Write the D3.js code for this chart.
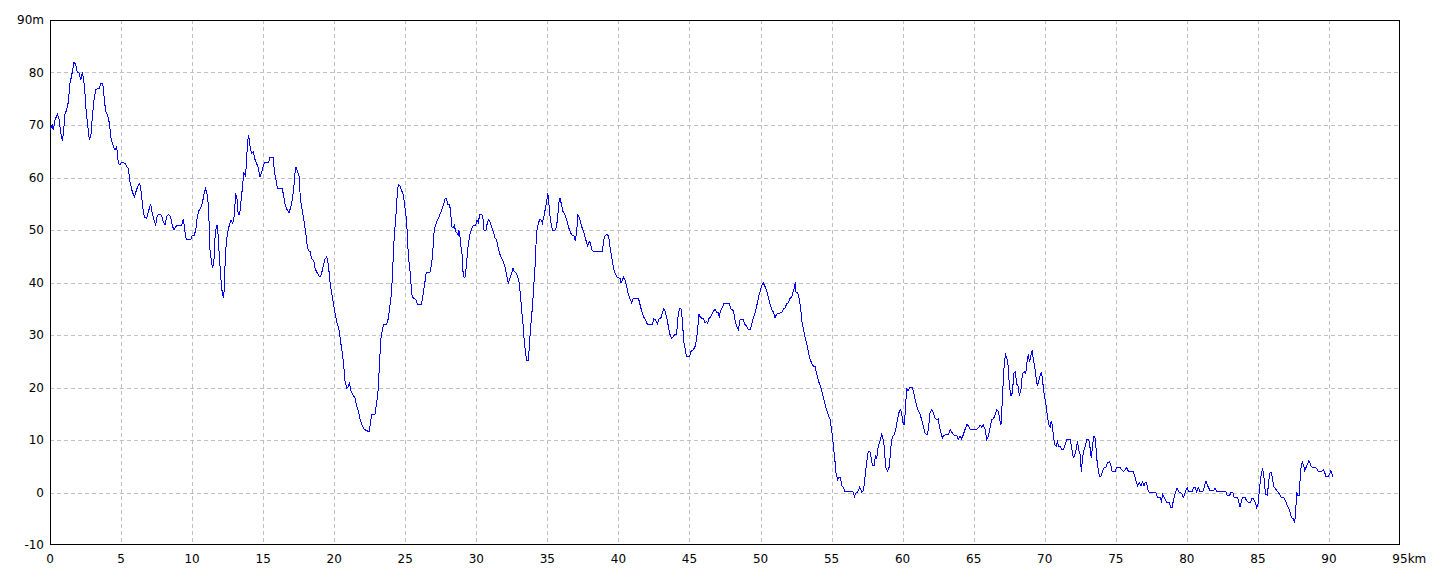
<!DOCTYPE html>
<html><head><meta charset="utf-8">
<script src="https://cdn.jsdelivr.net/npm/d3@7/dist/d3.min.js"></script>
<style>body{margin:0;background:#fff;overflow:hidden}</style>
</head><body><svg id="c" width="1440" height="576"></svg>
<script>
// [distance km, elevation m]
const profilePoints = [
[0.0,69],[0.05,69.4],[0.16,70],[0.23,69],[0.35,71],[0.52,72],[0.63,71.3],[0.75,68.7],[0.87,67],[0.94,68.4],[1.06,72.2],[1.17,72.8],[1.29,74.4],[1.41,78],[1.53,79.5],[1.69,82],[1.81,81.5],[1.92,80.1],[2.04,80],[2.16,78.5],[2.28,80],[2.42,77.6],[2.53,73.2],[2.65,70],[2.77,67.1],[2.89,68.4],[3.0,72.2],[3.12,75.4],[3.24,76.8],[3.47,77],[3.59,78],[3.71,78],[3.82,75],[3.92,72.5],[4.06,71.9],[4.18,70.3],[4.29,67.5],[4.46,65.9],[4.57,65.3],[4.69,65.9],[4.81,62.7],[4.93,62.4],[5.04,62.9],[5.28,62.7],[5.4,62.1],[5.51,61.8],[5.63,59.2],[5.79,57.3],[5.94,56.3],[6.05,57.3],[6.17,58.3],[6.31,58.9],[6.43,57],[6.52,54.5],[6.64,52.5],[6.8,52.2],[6.92,53.5],[7.08,54.9],[7.2,53.2],[7.32,51.9],[7.44,51],[7.55,52.8],[7.67,53],[7.86,52.8],[7.97,51.6],[8.09,51],
[8.21,52.5],[8.33,53],[8.49,52.5],[8.6,50.9],[8.72,50],[8.84,50.6],[8.96,50.9],[9.26,50.9],[9.38,52],[9.45,50.9],[9.54,48.7],[9.66,48.1],[9.9,48.1],[10.02,49],[10.16,49],[10.27,50.3],[10.36,52.5],[10.48,53.7],[10.62,54.3],[10.74,55.4],[10.86,57.1],[10.95,57.9],[11.07,56.6],[11.16,54.4],[11.25,46.5],[11.37,43.7],[11.44,42.7],[11.54,44.3],[11.63,49.4],[11.72,50.8],[11.79,50.8],[11.86,47.5],[11.96,43.2],[12.07,39.2],[12.14,37.7],[12.21,37.3],[12.26,38.6],[12.35,45.9],[12.47,49],[12.59,50.6],[12.73,51.9],[12.84,51.3],[12.93,51.9],[13.0,54.1],[13.07,57],[13.17,55.7],[13.24,53],[13.35,53],[13.47,56.3],[13.56,58.5],[13.63,60.9],[13.75,60.4],[13.84,63],[13.89,66.8],[13.98,68],[14.07,66.1],[14.17,64.6],[14.31,64.9],[14.4,63.6],[14.52,62.8],[14.64,62],[14.78,60.1],[14.87,60.8],[14.99,62],[15.1,62.8],[15.38,62.8],[15.48,63.9],[15.69,63.9],[15.81,60.8],[15.93,59.2],[16.0,57.9],[16.35,57.9],[16.47,56],[16.56,54.6],[16.68,53.9],
[16.82,53.2],[16.94,54.4],[17.05,55.7],[17.15,57.9],[17.24,60.8],[17.31,61.9],[17.43,61.1],[17.52,60.4],[17.62,56],[17.76,53.5],[17.88,51.6],[17.99,49.7],[18.09,47.2],[18.18,46.1],[18.3,45.9],[18.41,44.6],[18.56,44.1],[18.65,42.7],[18.77,42],[18.88,41.5],[19.0,41],[19.12,41.8],[19.24,43.4],[19.35,44.4],[19.47,44.9],[19.59,43.4],[19.71,39.9],[19.82,38],[19.94,36.1],[20.06,34.2],[20.17,32.6],[20.34,31],[20.46,28.5],[20.57,26.6],[20.67,24.1],[20.76,21.2],[20.88,19.9],[20.99,20.1],[21.07,21],[21.18,19.3],[21.3,18.7],[21.46,18],[21.58,16.5],[21.7,15.5],[21.82,13.9],[21.93,13],[22.12,12],[22.36,11.7],[22.45,11.5],[22.54,13],[22.64,14.9],[22.87,14.9],[22.97,16.8],[23.06,18.4],[23.13,21.5],[23.2,25.3],[23.29,29.4],[23.39,31],[23.48,32],[23.69,32],[23.81,33.2],[23.9,35.1],[24.0,37.3],[24.09,40.8],[24.16,45.3],[24.23,49.1],[24.3,51.3],[24.37,53.8],[24.44,57],[24.51,58.7],[24.63,58.4],[24.75,57.5],[24.87,56.6],[24.98,54.3],[25.1,51.5],
[25.22,44.9],[25.33,42.4],[25.4,39.9],[25.45,37.7],[25.57,37],[25.73,36.8],[25.85,35.9],[26.15,35.9],[26.27,38],[26.39,40.2],[26.46,41.6],[26.55,42],[26.74,42],[26.86,43.7],[26.93,45.3],[27.0,49.1],[27.09,50.6],[27.21,51.6],[27.33,52.2],[27.44,53],[27.56,53.8],[27.68,54.7],[27.8,56],[27.91,55.9],[27.98,54.9],[28.1,54.9],[28.19,53.8],[28.26,50.6],[28.38,50.5],[28.45,50.9],[28.55,49.7],[28.64,49.4],[28.73,49.1],[28.78,49.9],[28.85,48.7],[28.92,46.8],[29.02,44.9],[29.08,41.1],[29.2,41],[29.3,43],[29.37,45.6],[29.44,47.5],[29.55,49.1],[29.67,50.3],[29.79,50.9],[29.95,50.9],[30.05,51.8],[30.14,51.4],[30.24,53],[30.38,53],[30.47,52.2],[30.54,50],[30.68,50],[30.77,51.3],[30.87,52],[30.96,51.6],[31.08,50.5],[31.2,49.7],[31.31,48.5],[31.43,48.1],[31.55,46.5],[31.67,45.3],[31.78,44.6],[31.9,44],[32.02,43],[32.14,41.3],[32.25,39.9],[32.37,40.8],[32.49,41.8],[32.58,42.7],[32.68,42.1],[32.79,41.9],[32.91,41.1],[33.03,39.9],[33.12,37],[33.19,34.8],[33.28,32.3],[33.38,28.5],[33.47,26.6],[33.54,25.2],[33.66,25.2],[33.75,28.5],
[33.78,30],[33.85,32.3],[33.95,35.4],[34.04,39.2],[34.13,43],[34.2,47.2],[34.27,50],[34.37,51.3],[34.46,52],[34.56,51.9],[34.65,51.3],[34.74,52.4],[34.84,53.8],[34.93,55.1],[35.03,57],[35.12,54.7],[35.21,51.9],[35.35,50],[35.54,50],[35.64,50.6],[35.73,52.5],[35.8,55.1],[35.89,56],[36.01,54.7],[36.1,53.5],[36.25,52.8],[36.36,51.9],[36.48,50.6],[36.6,49.7],[36.71,49.1],[36.86,48.9],[36.97,48],[37.07,50],[37.14,52.8],[37.23,52.5],[37.32,51.6],[37.42,50.6],[37.54,49.7],[37.65,48.7],[37.77,47.5],[37.84,47],[37.96,47.8],[38.03,47.5],[38.12,46.2],[38.22,46],[38.87,46],[38.97,48.1],[39.06,48.9],[39.15,49.1],[39.3,49],[39.41,46.8],[39.53,44.9],[39.65,42.7],[39.76,41.8],[39.88,41.1],[40.0,40.9],[40.12,40.8],[40.19,39.9],[40.28,40.5],[40.37,41],[40.47,40.5],[40.59,39.2],[40.7,37.7],[40.82,36.8],[40.94,36.1],[41.05,37],[41.41,37],[41.52,35.8],[41.64,34.5],[41.76,33.5],[41.87,33.1],
[41.99,32.3],[42.06,32],[42.39,32],[42.48,33.1],[42.62,32.9],[42.74,32.1],[42.86,33.1],[43.0,33.3],[43.09,34.2],[43.18,35],[43.28,34.6],[43.4,33.3],[43.51,31.7],[43.63,30.1],[43.75,29.4],[43.86,29.7],[43.98,30.1],[44.1,30.1],[44.17,33],[44.29,35],[44.4,35],[44.5,33],[44.59,28.8],[44.69,27.5],[44.78,26],[45.01,26],[45.11,26.9],[45.27,27.2],[45.39,27.8],[45.51,29.4],[45.58,31.3],[45.67,33.9],[45.79,33.3],[45.98,33.1],[46.09,32.3],[46.19,32.6],[46.28,32.3],[46.37,33.1],[46.52,33.6],[46.66,34.4],[46.8,35],[46.91,34.2],[47.03,34.2],[47.1,33.3],[47.17,34.6],[47.31,35.2],[47.41,36],[47.78,36],[47.92,35],[48.09,34.6],[48.2,32.9],[48.32,31.7],[48.44,31],[48.56,32.9],[48.79,32.9],[48.91,32],[49.03,31.7],[49.14,31],[49.28,31],[49.38,32],[49.5,33.3],[49.61,34.2],[49.73,35.5],[49.85,37.1],[49.96,38.2],[50.08,39.4],[50.2,39.9],[50.32,39.2],
[50.44,38.4],[50.55,37.1],[50.67,35.9],[50.79,34.9],[50.91,34.3],[51.02,33.3],[51.14,34],[51.38,34.2],[51.49,34.3],[51.61,34.9],[51.73,35.2],[51.84,35.9],[51.96,36.2],[52.08,37],[52.2,37.3],[52.31,38.4],[52.38,39],[52.45,40],[52.5,38.1],[52.62,38],[52.74,36.8],[52.83,34.9],[52.9,32.7],[53.02,31.1],[53.14,29.5],[53.25,28.3],[53.37,26.7],[53.49,25.4],[53.6,24.6],[53.72,24.1],[53.84,24],[53.96,22.5],[54.07,21.3],[54.19,20.4],[54.31,19.4],[54.43,18.1],[54.54,16.8],[54.66,15.6],[54.78,14.7],[54.89,14],[54.96,12.7],[55.06,10.8],[55.15,8.3],[55.25,5.7],[55.32,3.5],[55.43,2.5],[55.53,2.9],[55.62,2.9],[55.72,1.3],[55.86,0.8],[55.95,0.1],[56.51,0.1],[56.61,-0.8],[56.72,-0.1],[56.84,0.1],[56.98,1],[57.12,0.1],[57.24,0.3],[57.31,1.9],[57.4,4.1],[57.48,6],[57.57,7.7],[57.69,7.9],[57.78,6.7],[57.87,5.1],[57.99,5.1],[58.09,7],[58.18,6.5],[58.25,8.3],[58.34,9.2],[58.44,10.2],[58.53,11.1],[58.6,10.5],[58.7,8.9],[58.81,4.8],[58.93,4.1],[59.05,4.8],
[59.11,6.5],[59.18,8.8],[59.28,10.7],[59.42,11],[59.53,12.3],[59.63,13.9],[59.75,15.3],[59.86,15.8],[59.98,14.2],[60.05,12.9],[60.12,12.9],[60.21,16.5],[60.28,19.7],[60.4,19.4],[60.5,20],[60.68,20],[60.78,19],[60.87,17.8],[60.99,16.5],[61.11,15.5],[61.22,14.9],[61.34,13.9],[61.46,12.6],[61.58,11.3],[61.72,11],[61.81,12],[61.93,15.2],[62.04,15.8],[62.16,15.2],[62.28,14.2],[62.4,13.9],[62.51,14],[62.61,12.3],[62.7,11.3],[62.8,10.4],[62.91,10.9],[63.1,11],[63.22,11],[63.36,12],[63.5,11.3],[63.62,10.9],[63.8,10.9],[63.92,10.1],[64.04,10.8],[64.16,10.2],[64.27,11],[64.39,12],[64.51,12.9],[64.63,12.8],[64.74,12.1],[64.86,12],[65.21,12],[65.33,12.3],[65.45,12.9],[65.56,12.5],[65.68,12.9],[65.8,12],[65.92,10.1],[66.03,10.7],[66.15,12.3],[66.27,13.9],[66.38,14],[66.5,14.7],[66.62,15.8],[66.74,15.5],[66.85,13.6],[66.92,12.9],[67.02,17.8],[67.09,21.6],[67.16,25.1],[67.25,26.2],[67.35,25.4],[67.44,23.8],[67.51,20.3],
[67.63,18.4],[67.72,19],[67.84,22.9],[67.93,23],[68.03,20.6],[68.12,20.3],[68.22,18.4],[68.33,19.7],[68.43,22.6],[68.55,23],[68.66,22.6],[68.76,25.1],[68.85,26.4],[68.92,24.8],[69.01,25.8],[69.11,27.1],[69.2,25.4],[69.3,23.8],[69.39,21.9],[69.48,20.3],[69.58,21.3],[69.67,22.2],[69.77,23],[69.84,21.6],[69.91,19.7],[70.0,18.1],[70.1,16.5],[70.19,14.6],[70.28,12.9],[70.38,12.5],[70.45,13.6],[70.54,12.9],[70.61,10.7],[70.7,9.1],[70.8,8.8],[70.89,9.7],[70.99,8.8],[71.08,8.8],[71.2,8.1],[71.31,8.1],[71.43,9.1],[71.55,10.1],[71.78,10.1],[71.9,8.5],[72.02,6.5],[72.11,7.2],[72.2,8.1],[72.3,9.7],[72.39,8.1],[72.49,7.2],[72.58,4],[72.67,6.9],[72.77,8.1],[72.86,8.9],[72.96,10.1],[73.1,10.1],[73.19,8.5],[73.28,6.5],[73.38,9.4],[73.47,10.8],[73.57,10.1],[73.66,6.5],[73.75,4.6],[73.85,3.1],[73.94,3],[74.03,3.7],[74.13,4.6],[74.32,4.9],[74.41,5.6],[74.55,5.9],[74.64,5.3],[74.74,4],[74.95,4],[75.07,4.8],[75.3,4.8],[75.42,4.3],[75.54,4],[75.65,4.3],[75.77,4.8],[75.89,4],[76.05,4],[76.23,4],
[76.33,3.2],[76.42,2.2],[76.54,1.3],[76.66,1.9],[76.77,1.3],[76.89,2],[76.99,1.3],[77.08,1.9],[77.17,2],[77.24,0.6],[77.36,0],[77.64,0],[77.83,-0.1],[77.92,-0.9],[78.11,-0.9],[78.21,-1.6],[78.3,-0.3],[78.39,-0.8],[78.49,-1.3],[78.58,-1.9],[78.77,-1.9],[78.86,-2.8],[78.96,-2.8],[79.05,-1.6],[79.14,-0.6],[79.24,0.3],[79.31,0.9],[79.43,0.1],[79.57,0],[79.66,-0.3],[79.75,-0.9],[79.85,-0.3],[79.94,0.4],[80.04,0.9],[80.13,0.1],[80.36,0.1],[80.46,0.9],[80.6,0.9],[80.69,0.1],[80.81,0.9],[80.93,0.1],[81.04,0.1],[81.16,0.3],[81.26,1.4],[81.35,2.2],[81.44,1.4],[81.54,0.9],[81.63,0.3],[81.87,0.3],[81.98,0.9],[82.1,0.1],[82.76,0.1],[82.85,-0.6],[82.99,-0.6],[83.11,0],[83.23,0.1],[83.32,-0.9],[83.51,-0.9],[83.62,-1.3],[83.74,-2.8],[83.84,-1.6],[83.93,-0.9],[84.09,-0.9],[84.21,-1.6],[84.33,-1.9],[84.49,-1.9],[84.59,-1.1],[84.68,-1.1],[84.8,-1.8],[84.92,-2.9],[85.01,-2.2],[85.11,0.6],[85.2,2.9],[85.27,3.8],[85.34,4.6],[85.44,2.5],[85.53,-0.3],[85.67,-0.5],[85.76,2.2],[85.86,3.8],[85.95,3.8],[86.05,2.2],[86.14,1],[86.23,0.8],[86.33,0.3],[86.44,0],[86.56,-0.5],[86.66,-1],[86.84,-1],[86.94,-1.6],[87.03,-2.2],[87.15,-2.9],[87.27,-3.8],[87.36,-4.8],[87.5,-5],[87.59,-5.7],[87.66,-3.5],[87.73,0],[87.8,-0.6],[87.9,-0.6],[87.97,2.5],[88.04,4.8],[88.13,5.8],[88.23,5.1],[88.3,4.1],[88.39,4.8],[88.49,5.4],[88.58,6],[88.67,5.6],[88.77,4.9],[88.91,4.8],[89.02,4.8],[89.14,4.6],[89.26,4],[89.49,4],[89.61,4.3],[89.7,3.8],[89.8,3],[89.94,3],[90.03,3.5],[90.13,4.1],[90.2,3.8],[90.27,2.9]
];
const xTickValues = [0,5,10,15,20,25,30,35,40,45,50,55,60,65,70,75,80,85,90,95];
const yTickValues = [-10,0,10,20,30,40,50,60,70,80,90];
const xUnit = "km", yUnit = "m";

const svg = d3.select("#c");
const L = 50, R = 1400, T = 20, B = 545;
const x = d3.scaleLinear().domain([0,95]).range([L,R]);
const y = d3.scaleLinear().domain([-10,90]).range([B,T]);
const font = "Tahoma, 'DejaVu Sans', sans-serif";
const px = v => Math.round(v) + 0.5;

const grid = svg.append("g").attr("stroke","#c0c0c0").attr("stroke-dasharray","4,3").attr("shape-rendering","crispEdges");
yTickValues.slice(1,-1).forEach(v => {
  grid.append("line").attr("x1",L).attr("x2",R).attr("y1",px(y(v))).attr("y2",px(y(v)));
});
xTickValues.slice(1,-1).forEach(v => {
  grid.append("line").attr("y1",T).attr("y2",B).attr("x1",px(x(v))).attr("x2",px(x(v)));
});

svg.append("rect").attr("x",L+0.5).attr("y",T+0.5).attr("width",R-L-1).attr("height",B-T-1)
  .attr("fill","none").attr("stroke","#000").attr("shape-rendering","crispEdges");

const line = d3.line().x(d => x(d[0])).y(d => y(d[1]));
svg.append("path").datum(profilePoints).attr("d",line).attr("fill","none")
  .attr("stroke","#0000ff").attr("stroke-width",1).attr("shape-rendering","crispEdges");

const yl = svg.append("g").attr("font-family",font).attr("font-size",12).attr("fill","#000");
yTickValues.forEach((v,i) => {
  yl.append("text").attr("x",L-6).attr("y",y(v)+4).attr("text-anchor","end")
    .text(v + (i === yTickValues.length-1 ? yUnit : ""));
});
const xl = svg.append("g").attr("font-family",font).attr("font-size",12).attr("fill","#000");
xTickValues.forEach((v,i) => {
  const t = xl.append("text").attr("x",x(v)).attr("y",B+18).attr("text-anchor","middle").text(v);
  if (i === xTickValues.length-1) {
    const w = t.node().getComputedTextLength();
    xl.append("text").attr("x",x(v)+w/2).attr("y",B+18).attr("text-anchor","start").text(xUnit);
  }
});
</script></body></html>
